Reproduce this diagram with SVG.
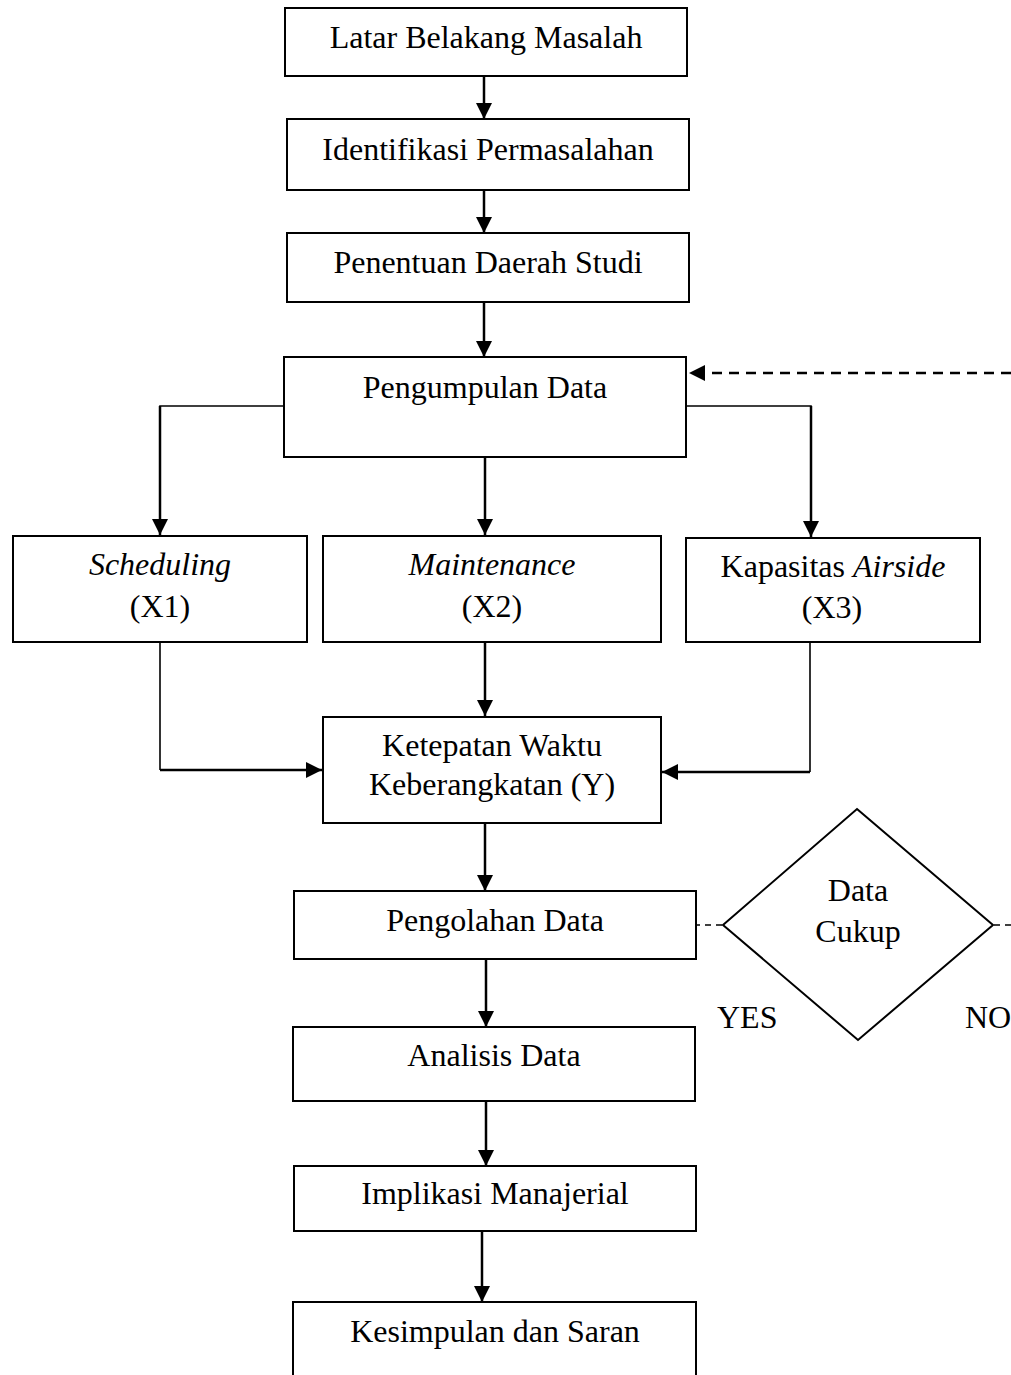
<svg xmlns="http://www.w3.org/2000/svg" width="1011" height="1375" viewBox="0 0 1011 1375">
<style>
.box{fill:#fff;stroke:#000;stroke-width:2}
.t{font-family:"Liberation Serif","Times New Roman",serif;font-size:32px;fill:#000;text-anchor:middle}
.ts{font-family:"Liberation Serif","Times New Roman",serif;font-size:32px;fill:#000}
.i{font-style:italic}
.c{fill:none;stroke:#000;stroke-width:2.5}
.thin{fill:none;stroke:#000;stroke-width:1.6}
.dash{fill:none;stroke:#000;stroke-width:2.5;stroke-dasharray:10 7}
.dash2{fill:none;stroke:#000;stroke-width:1.6;stroke-dasharray:6 5}
</style>
<defs>
<marker id="ah" markerUnits="userSpaceOnUse" markerWidth="18" markerHeight="18" refX="16" refY="8" orient="auto">
<path d="M0,0 L16,8 L0,16 Z" fill="#000"/>
</marker>
<marker id="ah2" markerUnits="userSpaceOnUse" markerWidth="18" markerHeight="18" refX="16" refY="8" orient="auto">
<path d="M0,0 L16,8 L0,16 Z" fill="#000"/>
</marker>
</defs>
<rect width="1011" height="1375" fill="#fff"/>

<g id="connectors">
<line class="c" x1="484" y1="76" x2="484" y2="119" marker-end="url(#ah)"/>
<line class="c" x1="484" y1="190" x2="484" y2="233" marker-end="url(#ah)"/>
<line class="c" x1="484" y1="302" x2="484" y2="357" marker-end="url(#ah)"/>
<line class="dash" x1="1011" y1="373" x2="689" y2="373" marker-end="url(#ah2)"/>
<polyline class="thin" points="284,406 160,406 160,420"/>
<line class="c" x1="160" y1="406" x2="160" y2="535" marker-end="url(#ah)"/>
<line class="c" x1="485" y1="457" x2="485" y2="535" marker-end="url(#ah)"/>
<polyline class="thin" points="686,406 811,406 811,420"/>
<line class="c" x1="811" y1="406" x2="811" y2="537" marker-end="url(#ah)"/>
<polyline class="thin" points="160,642 160,770"/>
<line class="c" x1="160" y1="770" x2="322" y2="770" marker-end="url(#ah)"/>
<line class="c" x1="485" y1="628" x2="485" y2="716" marker-end="url(#ah)"/>
<polyline class="thin" points="810,630 810,772"/>
<line class="c" x1="810" y1="772" x2="662" y2="772" marker-end="url(#ah)"/>
<line class="c" x1="485" y1="823" x2="485" y2="891" marker-end="url(#ah)"/>
<line class="dash2" x1="694" y1="925" x2="723" y2="925"/>
<line class="dash2" x1="994" y1="925" x2="1011" y2="925"/>
<line class="c" x1="486" y1="959" x2="486" y2="1027" marker-end="url(#ah)"/>
<line class="c" x1="486" y1="1101" x2="486" y2="1166" marker-end="url(#ah)"/>
<line class="c" x1="482" y1="1231" x2="482" y2="1302" marker-end="url(#ah)"/>
</g>

<g id="n1"><rect class="box" x="285" y="8" width="402" height="68"/><text class="t" x="486" y="48">Latar Belakang Masalah</text></g>
<g id="n2"><rect class="box" x="287" y="119" width="402" height="71"/><text class="t" x="488" y="160">Identifikasi Permasalahan</text></g>
<g id="n3"><rect class="box" x="287" y="233" width="402" height="69"/><text class="t" x="488" y="273">Penentuan Daerah Studi</text></g>
<g id="n4"><rect class="box" x="284" y="357" width="402" height="100"/><text class="t" x="485" y="398">Pengumpulan Data</text></g>
<g id="n5"><rect class="box" x="13" y="536" width="294" height="106"/><text class="t i" x="160" y="575">Scheduling</text><text class="t" x="160" y="617">(X1)</text></g>
<g id="n6"><rect class="box" x="323" y="536" width="338" height="106"/><text class="t i" x="492" y="575">Maintenance</text><text class="t" x="492" y="617">(X2)</text></g>
<g id="n7"><rect class="box" x="686" y="538" width="294" height="104"/><text class="t" x="833" y="577">Kapasitas <tspan class="i">Airside</tspan></text><text class="t" x="832" y="618">(X3)</text></g>
<g id="n8"><rect class="box" x="323" y="717" width="338" height="106"/><text class="t" x="492" y="756">Ketepatan Waktu</text><text class="t" x="492" y="795">Keberangkatan (Y)</text></g>
<g id="n9"><rect class="box" x="294" y="891" width="402" height="68"/><text class="t" x="495" y="931">Pengolahan Data</text></g>
<g id="n10"><polygon points="857,809 993,925 858,1040 723,925" fill="#fff" stroke="#000" stroke-width="2"/><text class="t" x="858" y="901">Data</text><text class="t" x="858" y="942">Cukup</text></g>
<g id="lbl"><text class="ts" x="717" y="1028">YES</text><text class="ts" x="965" y="1028">NO</text></g>
<g id="n11"><rect class="box" x="293" y="1027" width="402" height="74"/><text class="t" x="494" y="1066">Analisis Data</text></g>
<g id="n12"><rect class="box" x="294" y="1166" width="402" height="65"/><text class="t" x="495" y="1204">Implikasi Manajerial</text></g>
<g id="n13"><rect class="box" x="293" y="1302" width="403" height="90"/><text class="t" x="495" y="1342">Kesimpulan dan Saran</text></g>
</svg>
